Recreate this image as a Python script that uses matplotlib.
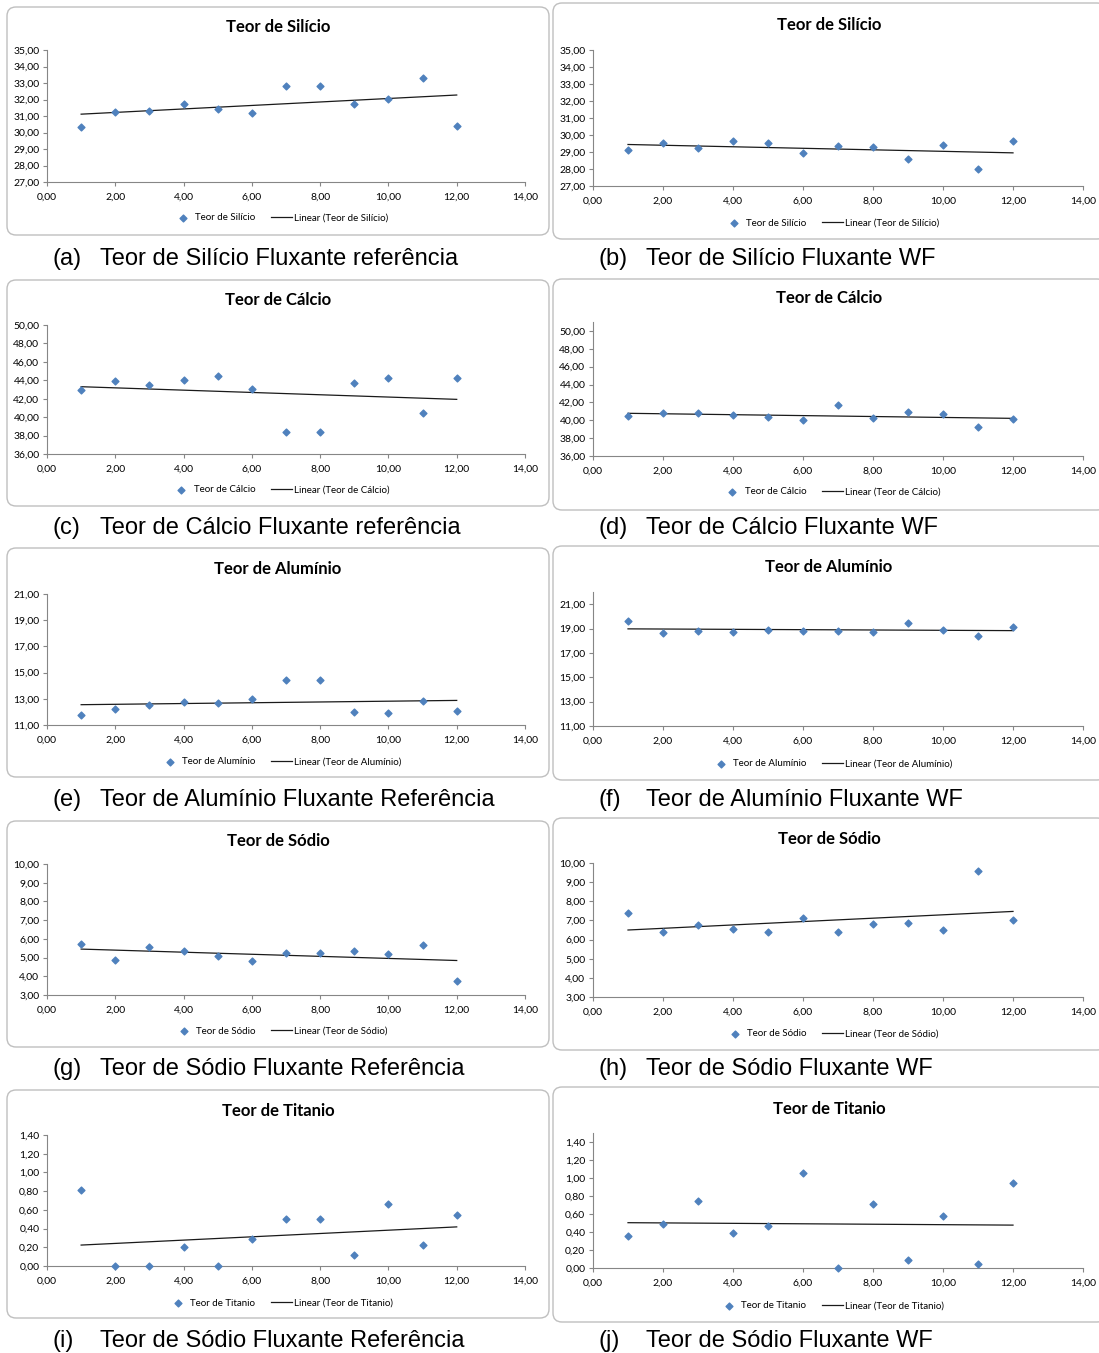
import matplotlib
matplotlib.use("Agg")
import matplotlib.pyplot as plt
from matplotlib.patches import FancyBboxPatch
import numpy as np

plt.rcParams['font.family'] = ['Lato', 'DejaVu Sans']

# amostras (eixo x)
amostras = [1, 2, 3, 4, 5, 6, 7, 8, 9, 10, 11, 12]

# teores
si_ref = [30.34, 31.22, 31.32, 31.70, 31.44, 31.20, 32.81, 32.81, 31.72, 32.05, 33.31, 30.38]
si_wf = [29.12, 29.55, 29.24, 29.67, 29.53, 28.94, 29.38, 29.30, 28.57, 29.42, 27.98, 29.65]
ca_ref = [42.98, 43.88, 43.45, 44.06, 44.49, 43.05, 38.41, 38.41, 43.66, 44.27, 40.50, 44.24]
ca_wf = [40.44, 40.78, 40.78, 40.63, 40.33, 39.99, 41.75, 40.29, 40.89, 40.66, 39.28, 40.14]
al_ref = [11.73, 12.22, 12.52, 12.75, 12.65, 12.95, 14.44, 14.44, 11.99, 11.94, 12.87, 12.06]
al_wf = [19.65, 18.62, 18.81, 18.73, 18.86, 18.76, 18.81, 18.68, 19.49, 18.84, 18.41, 19.16]
na_ref = [5.70, 4.87, 5.54, 5.34, 5.06, 4.81, 5.27, 5.27, 5.33, 5.18, 5.68, 3.73]
na_wf = [7.37, 6.40, 6.75, 6.55, 6.41, 7.13, 6.40, 6.83, 6.87, 6.50, 9.59, 7.02]
ti_ref = [0.81, 0.00, 0.00, 0.20, 0.00, 0.29, 0.50, 0.50, 0.12, 0.66, 0.22, 0.55]
ti_wf = [0.36, 0.49, 0.75, 0.39, 0.47, 1.06, 0.00, 0.71, 0.09, 0.58, 0.04, 0.94]

titulos = ['Teor de Silício', 'Teor de Cálcio', 'Teor de Alumínio', 'Teor de Sódio', 'Teor de Titanio']
legendas = ['Teor de Silício', 'Teor de Cálcio', 'Teor de Alumínio', 'Teor de Sódio', 'Teor de Titanio']
legendas_linha = ['Linear (Teor de Silício)', 'Linear (Teor de Cálcio)', 'Linear (Teor de Alumínio)',
                  'Linear (Teor de Sódio)', 'Linear (Teor de Titanio)']
legendas_figura = [
    ('(a)', 'Teor de Silício Fluxante referência'),
    ('(b)', 'Teor de Silício Fluxante WF'),
    ('(c)', 'Teor de Cálcio Fluxante referência'),
    ('(d)', 'Teor de Cálcio Fluxante WF'),
    ('(e)', 'Teor de Alumínio Fluxante Referência'),
    ('(f)', 'Teor de Alumínio Fluxante WF'),
    ('(g)', 'Teor de Sódio Fluxante Referência'),
    ('(h)', 'Teor de Sódio Fluxante WF'),
    ('(i)', 'Teor de Sódio Fluxante Referência'),
    ('(j)', 'Teor de Sódio Fluxante WF'),
]

AZUL = '#4F81BD'
CINZA = '#868686'
LARG, ALT = 1099, 1353

fig = plt.figure(figsize=(LARG / 100, ALT / 100), dpi=100)
fundo = fig.add_axes([0, 0, 1, 1])
fundo.set_xlim(0, LARG)
fundo.set_ylim(ALT, 0)
fundo.axis('off')


def eixo_px(l, t, r, b):
    return fig.add_axes([l / LARG, 1 - b / ALT, (r - l) / LARG, (b - t) / ALT])


def fmt(v):
    return f'{v:.2f}'.replace('.', ',')


# colunas: caixa (x0, x1) e eixo (x0, x1)
esq = dict(cx0=7, cx1=549, ax0=47, ax1=525)
dir_ = dict(cx0=553, cx1=1106, ax0=593, ax1=1083)

# dados, indice, coluna, caixa (y0, y1), eixo (topo, base), y titulo, y legenda, y legenda fig., limites, passo, ultimo tick
paineis = [
    (si_ref, 0, esq, (7, 235), (50, 182), 27, 218, 259, (27, 35), 1, 35),
    (si_wf, 0, dir_, (3, 239), (50, 186), 25, 223, 259, (27, 35), 1, 35),
    (ca_ref, 1, esq, (280, 506), (325, 454), 300, 490, 528, (36, 50), 2, 50),
    (ca_wf, 1, dir_, (279, 510), (322, 456), 298, 492, 528, (36, 51), 2, 50),
    (al_ref, 2, esq, (548, 777), (594, 725), 569, 762, 800, (11, 21), 2, 21),
    (al_wf, 2, dir_, (546, 780), (592, 726), 567, 764, 800, (11, 22), 2, 21),
    (na_ref, 3, esq, (821, 1047), (864, 995), 841, 1031, 1069, (3, 10), 1, 10),
    (na_wf, 3, dir_, (818, 1050), (863, 997), 839, 1034, 1069, (3, 10), 1, 10),
    (ti_ref, 4, esq, (1090, 1318), (1135, 1266), 1111, 1303, 1341, (0, 1.4), 0.2, 1.4),
    (ti_wf, 4, dir_, (1087, 1322), (1133, 1268), 1109, 1306, 1341, (0, 1.5), 0.2, 1.4),
]

for i, (valores, k, col, caixa, eixo, y_tit, y_leg, y_cap, lim, passo, topo) in enumerate(paineis):
    # moldura arredondada do grafico
    moldura = FancyBboxPatch((col['cx0'], caixa[0]), col['cx1'] - col['cx0'], caixa[1] - caixa[0],
                             boxstyle='round,pad=0,rounding_size=9', fc='white', ec='#BFBFBF', lw=1.0)
    fundo.add_patch(moldura)
    meio = (col['cx0'] + min(col['cx1'], 1105)) / 2
    fundo.text(meio, y_tit, titulos[k], ha='center', va='center', fontsize=12, fontweight='bold')

    ax = eixo_px(col['ax0'], eixo[0], col['ax1'], eixo[1])
    ax.set_facecolor('none')
    pontos = ax.scatter(amostras, valores, marker='D', s=12, color=AZUL, zorder=3, clip_on=False)
    a, b = np.polyfit(amostras, valores, 1)
    xs = np.array([min(amostras), max(amostras)])
    linha, = ax.plot(xs, a * xs + b, color='#1a1a1a', lw=0.9, zorder=2)

    ax.set_xlim(0, 14)
    ax.set_ylim(*lim)
    xt = np.arange(0, 15, 2)
    ax.set_xticks(xt)
    ax.set_xticklabels([fmt(v) for v in xt])
    yt = np.arange(lim[0], topo + passo / 2, passo)
    ax.set_yticks(yt)
    ax.set_yticklabels([fmt(v) for v in yt])
    for lado in ['top', 'right']:
        ax.spines[lado].set_visible(False)
    for lado in ['left', 'bottom']:
        ax.spines[lado].set_color(CINZA)
        ax.spines[lado].set_linewidth(0.8)
    ax.tick_params(length=3, width=0.8, color=CINZA, labelsize=7.5, pad=2.5)
    ax.tick_params(axis='x', pad=5)

    ax.legend([pontos, linha], [legendas[k], legendas_linha[k]], ncol=2, frameon=False,
              loc='center', bbox_to_anchor=((meio + 2) / LARG, 1 - y_leg / ALT),
              bbox_transform=fig.transFigure, fontsize=7, handlelength=2.2,
              columnspacing=1.6, handletextpad=0.15, scatterpoints=1)

    letra, texto = legendas_figura[i]
    fundo.text(col['cx0'] + 46, y_cap, letra, ha='left', va='center', fontsize=17,
               family='Liberation Sans')
    fundo.text(col['cx0'] + 93, y_cap, texto, ha='left', va='center', fontsize=17,
               family='Liberation Sans')

fig.savefig('out.png', dpi=100)
